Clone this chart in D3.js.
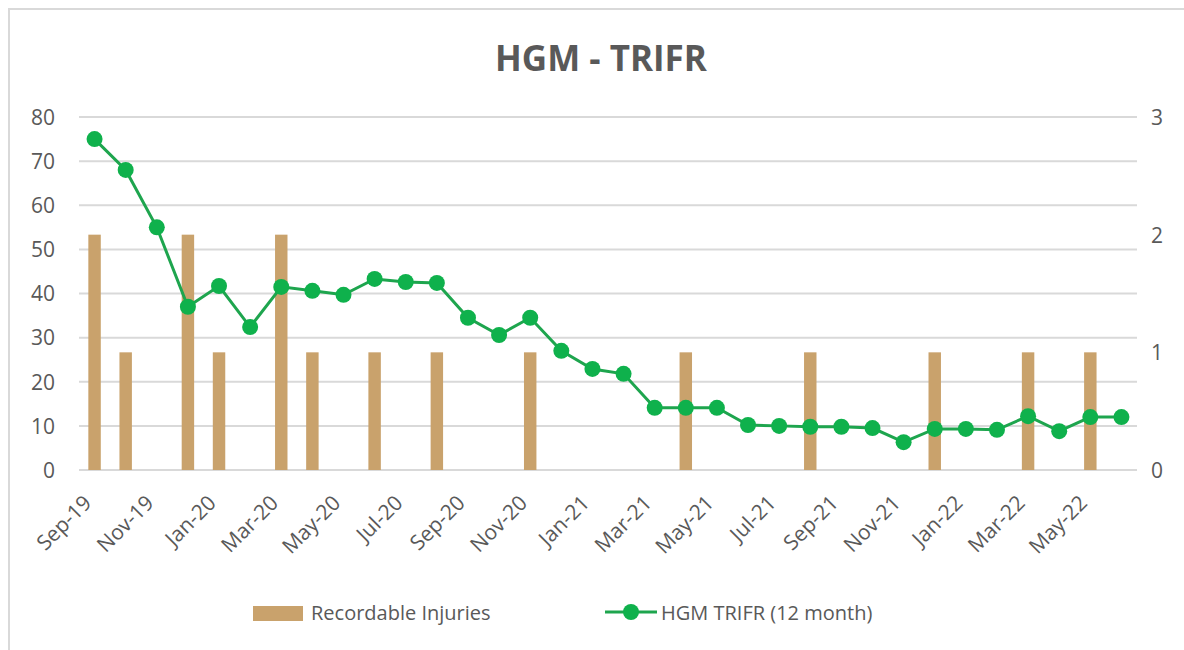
<!DOCTYPE html>
<html>
<head>
<meta charset="utf-8">
<script src="https://cdn.jsdelivr.net/npm/d3@7"></script>
<style>
  body { margin: 0; background: #fff; }
  #chart { width: 1184px; height: 650px; }
</style>
</head>
<body>
<div id="chart"></div>
<script>
// months shown on the x axis
const months = ["Sep-19","Oct-19","Nov-19","Dec-19","Jan-20","Feb-20","Mar-20","Apr-20","May-20","Jun-20","Jul-20","Aug-20",
  "Sep-20","Oct-20","Nov-20","Dec-20","Jan-21","Feb-21","Mar-21","Apr-21","May-21","Jun-21","Jul-21","Aug-21",
  "Sep-21","Oct-21","Nov-21","Dec-21","Jan-22","Feb-22","Mar-22","Apr-22","May-22","Jun-22"];

// recordable injuries (right axis)
const injuries = [2,1,0,2,1,0,2,1,0,1,0,1, 0,0,1,0,0,0,0,1,0,0,0,1, 0,0,0,1,0,0,1,0,1,0];

// 12 month TRIFR (left axis)
const trifr = [75,68,55,37,41.7,32.4,41.5,40.6,39.7,43.3,42.6,42.4,
  34.5,30.6,34.5,27,22.9,21.8,14.1,14.1,14.1,10.2,10,9.8,
  9.8,9.5,6.3,9.3,9.3,9.1,12.2,8.8,12,12];

const leftTicks = [0,10,20,30,40,50,60,70,80];
const rightTicks = [0,1,2,3];

const width = 1184, height = 650;
const margin = { top: 117, right: 47, bottom: 180, left: 79 };
const innerWidth = width - margin.left - margin.right;
const innerHeight = height - margin.top - margin.bottom;
const font = "'Open Sans', sans-serif";
const textColor = "#595959";

const svg = d3.select('#chart')
  .append('svg')
  .attr('width', width)
  .attr('height', height)
  .style('font-family', font);

// chart frame (only left and top edges are visible in the picture)
svg.append('path')
  .attr('d', `M9,${height} V9 H${width}`)
  .attr('fill', 'none')
  .attr('stroke', '#d9d9d9')
  .attr('stroke-width', 2);

svg.append('text')
  .attr('x', 601).attr('y', 71)
  .attr('text-anchor', 'middle')
  .attr('font-size', 35)
  .attr('font-weight', 'bold')
  .attr('fill', textColor)
  .text('HGM - TRIFR');

const g = svg.append('g')
  .attr('transform', `translate(${margin.left},${margin.top})`);

const x = d3.scaleBand()
  .domain(months)
  .range([0, innerWidth])
  .paddingInner(0.6)
  .paddingOuter(0.3);

const yLeft = d3.scaleLinear().domain([0, 80]).range([innerHeight, 0]);
const yRight = d3.scaleLinear().domain([0, 3]).range([innerHeight, 0]);

const cx = d => x(d) + x.bandwidth() / 2;

// gridlines
g.append('g')
  .selectAll('line')
  .data(leftTicks)
  .enter()
  .append('line')
  .attr('x1', 0).attr('x2', innerWidth)
  .attr('y1', d => yLeft(d)).attr('y2', d => yLeft(d))
  .attr('stroke', '#d9d9d9')
  .attr('stroke-width', 2);

// left axis
const leftAxis = g.append('g')
  .attr('transform', 'translate(-24,0)')
  .call(d3.axisLeft(yLeft).tickValues(leftTicks).tickSize(0).tickPadding(0));
leftAxis.select('.domain').remove();
leftAxis.selectAll('text')
  .attr('font-size', 21).attr('font-family', font).attr('fill', textColor)
  .attr('dy', '0.35em');

// right axis
const rightAxis = g.append('g')
  .attr('transform', `translate(${innerWidth + 14},0)`)
  .call(d3.axisRight(yRight).tickValues(rightTicks).tickFormat(d3.format('d')).tickSize(0).tickPadding(0));
rightAxis.select('.domain').remove();
rightAxis.selectAll('text')
  .attr('font-size', 21).attr('font-family', font).attr('fill', textColor)
  .attr('dy', '0.35em');

// bottom axis, every other month
const bottomAxis = g.append('g')
  .attr('transform', `translate(0,${innerHeight})`)
  .call(d3.axisBottom(x).tickValues(months.filter((m, i) => i % 2 === 0)).tickSize(0).tickPadding(0));
bottomAxis.select('.domain').remove();
bottomAxis.selectAll('text')
  .attr('font-size', 21).attr('font-family', font).attr('fill', textColor)
  .attr('text-anchor', 'end')
  .attr('x', 0).attr('y', 0)
  .attr('dy', '0.35em')
  .attr('transform', 'translate(-7,29) rotate(-45)');

// bars
g.selectAll('.bar')
  .data(months)
  .enter()
  .append('rect')
  .attr('class', 'bar')
  .attr('x', d => x(d))
  .attr('width', x.bandwidth())
  .attr('y', (d, i) => yRight(injuries[i]))
  .attr('height', (d, i) => innerHeight - yRight(injuries[i]))
  .attr('fill', '#c9a26c');

// line
const line = d3.line()
  .x((d, i) => cx(months[i]))
  .y(d => yLeft(d));

g.append('path')
  .datum(trifr)
  .attr('fill', 'none')
  .attr('stroke', '#1ea54e')
  .attr('stroke-width', 3)
  .attr('d', line);

g.selectAll('.dot')
  .data(trifr)
  .enter()
  .append('circle')
  .attr('class', 'dot')
  .attr('cx', (d, i) => cx(months[i]))
  .attr('cy', d => yLeft(d))
  .attr('r', 8)
  .attr('fill', '#0fb14c');

// legend
const legend = svg.append('g');
legend.append('rect')
  .attr('x', 253).attr('y', 606)
  .attr('width', 50).attr('height', 15)
  .attr('fill', '#c9a26c');
legend.append('text')
  .attr('x', 311).attr('y', 620)
  .attr('font-size', 20).attr('fill', textColor)
  .text('Recordable Injuries');
legend.append('line')
  .attr('x1', 605).attr('x2', 657)
  .attr('y1', 612).attr('y2', 612)
  .attr('stroke', '#1ea54e').attr('stroke-width', 3);
legend.append('circle')
  .attr('cx', 631).attr('cy', 612).attr('r', 8)
  .attr('fill', '#0fb14c');
legend.append('text')
  .attr('x', 661).attr('y', 620)
  .attr('font-size', 20).attr('fill', textColor)
  .text('HGM TRIFR (12 month)');
</script>
</body>
</html>
